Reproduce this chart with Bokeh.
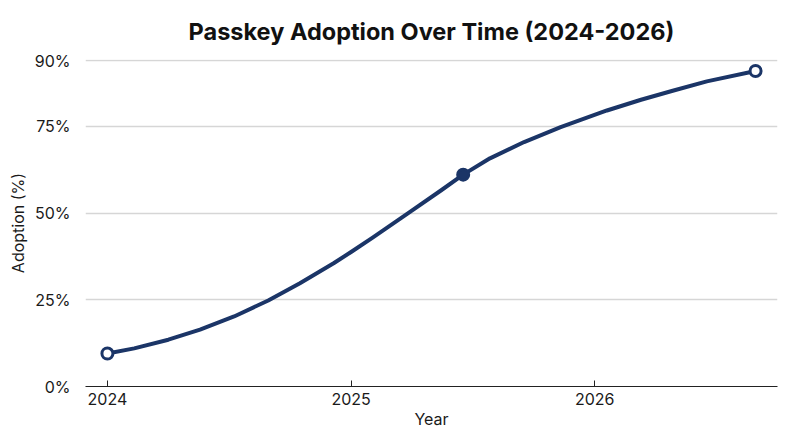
from bokeh.plotting import figure
from bokeh.models import Range1d, FixedTicker
from bokeh.embed import file_html
from bokeh.resources import INLINE

# ---- data ----
years = [2024.00, 2024.11, 2024.25, 2024.38, 2024.52, 2024.66, 2024.79, 2024.93,
         2025.00, 2025.09, 2025.23, 2025.37, 2025.46, 2025.57, 2025.71, 2025.86,
         2026.05, 2026.19, 2026.32, 2026.46, 2026.66]
adoption = [9.5, 11.0, 13.5, 16.4, 20.2, 24.8, 29.8, 35.6,
            38.8, 43.0, 49.8, 56.6, 61.1, 65.8, 70.5, 74.8,
            79.6, 82.7, 85.3, 88.0, 91.0]

milestone_years = [2024.00, 2025.46, 2026.66]
milestone_values = [9.5, 61.1, 91.0]

x_ticks = [2024, 2025, 2026]
x_tick_labels = ["2024", "2025", "2026"]
y_ticks = [0, 25, 50, 75, 94]
y_tick_labels = ["0%", "25%", "50%", "75%", "90%"]

title_text = "Passkey Adoption Over Time (2024-2026)"
x_label = "Year"
y_label = "Adoption (%)"

NAVY = "#1b3567"
FONT = "Inter"
TEXT = "#1a1a1a"

p = figure(
    width=784, height=431,
    min_border_left=85, min_border_right=7, min_border_top=59, min_border_bottom=42,
    x_range=Range1d(2023.91, 2026.75), y_range=Range1d(0, 94.3),
    output_backend="svg", toolbar_location=None,
    title=title_text,
)
p.outline_line_color = None
p.background_fill_color = "white"
p.border_fill_color = "white"

p.title.align = "center"
p.title.text_font = FONT
p.title.text_font_size = "23.5px"
p.title.text_font_style = "bold"
p.title.text_color = "#111111"
p.title.standoff = 28

# x axis
xa = p.xaxis[0]
xa.ticker = FixedTicker(ticks=x_ticks)
xa.major_label_overrides = {t: l for t, l in zip(x_ticks, x_tick_labels)}
xa.axis_line_color = "#222222"
xa.axis_line_width = 1.2
xa.major_tick_line_color = "#222222"
xa.major_tick_in = 6
xa.major_tick_out = 0
xa.minor_tick_line_color = None
xa.major_label_text_font = FONT
xa.major_label_text_font_size = "16px"
xa.major_label_text_color = TEXT
xa.major_label_standoff = 6
xa.axis_label = x_label
xa.axis_label_text_font = FONT
xa.axis_label_text_font_size = "16px"
xa.axis_label_text_font_style = "normal"
xa.axis_label_text_color = TEXT
xa.axis_label_standoff = 1

# y axis
ya = p.yaxis[0]
ya.ticker = FixedTicker(ticks=y_ticks)
ya.major_label_overrides = {t: l for t, l in zip(y_ticks, y_tick_labels)}
ya.axis_line_color = None
ya.major_tick_line_color = None
ya.minor_tick_line_color = None
ya.major_label_text_font = FONT
ya.major_label_text_font_size = "16px"
ya.major_label_text_color = TEXT
ya.major_label_standoff = 9
ya.axis_label = y_label
ya.axis_label_text_font = FONT
ya.axis_label_text_font_size = "16px"
ya.axis_label_text_font_style = "normal"
ya.axis_label_text_color = TEXT
ya.axis_label_standoff = 4

p.xgrid.grid_line_color = None
p.ygrid.ticker = FixedTicker(ticks=y_ticks[1:])
p.ygrid.grid_line_color = "#d6d6d6"
p.ygrid.grid_line_width = 1.5

p.line(years, adoption, line_color=NAVY, line_width=4, line_join="round", line_cap="round")

fills = ["white" if i in (0, len(milestone_years) - 1) else NAVY for i in range(len(milestone_years))]
p.scatter(milestone_years, milestone_values, size=11, fill_color=fills,
          line_color=NAVY, line_width=3)

open("out.html", "w").write(file_html(p, INLINE))
